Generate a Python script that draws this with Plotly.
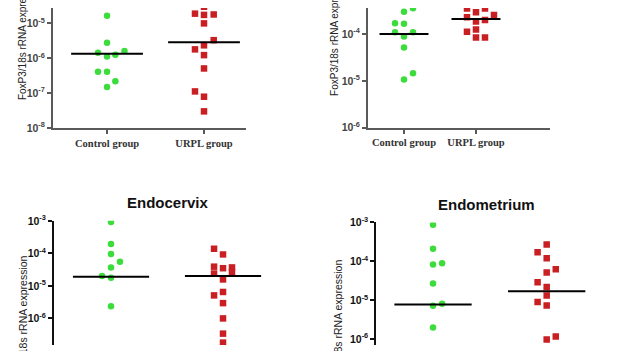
import plotly.graph_objects as go

# ---------------- data ----------------
categories = ["Control group", "URPL group"]

# Panel A (top-left)
a_ctrl = [1.66e-5, 2.8e-6, 1.45e-6, 1.12e-6, 1.26e-6, 1.62e-6, 4.1e-7, 4.1e-7, 2.2e-7, 1.5e-7]
a_ctrl_jit = [0, 0, -0.093, 0, 0.086, 0.18, -0.093, 0, 0.086, 0]
a_urpl = [3.0e-5, 1.9e-5, 1.75e-5, 1.8e-5, 1.0e-5, 3.3e-6, 2.35e-6, 1.8e-6, 1.23e-6, 5.1e-7, 1.12e-7, 7.9e-8, 3.0e-8]
a_urpl_jit = [0, -0.093, 0, 0.1, 0, 0.1, 0, -0.093, 0, 0, -0.093, 0, 0]
a_median = [1.35e-6, 2.9e-6]

# Panel B (top-right)
b_ctrl = [3.0e-4, 3.6e-4, 1.7e-4, 1.66e-4, 1.1e-4, 1.1e-4, 8.9e-5, 5.2e-5, 1.45e-5, 1.07e-5]
b_ctrl_jit = [0, 0.125, -0.125, 0, -0.125, 0.125, 0, 0, 0.125, 0]
b_urpl = [3.55e-4, 3.55e-4, 2.95e-4, 2.57e-4, 2.3e-4, 1.86e-4, 2.0e-4, 1.12e-4, 1.26e-4, 8.5e-5, 8.5e-5]
b_urpl_jit = [-0.125, 0.125, 0, 0.25, -0.125, 0, 0.125, -0.125, 0, 0, 0.125]
b_median = [1.0e-4, 2.1e-4]

# Panel C (bottom-left, Endocervix)
c_ctrl = [9.3e-4, 1.95e-4, 9.5e-5, 5.5e-5, 3.7e-5, 2.0e-5, 1.78e-5, 2.35e-6]
c_ctrl_jit = [0, 0, 0, 0.08, 0, -0.08, 0, 0]
c_urpl = [1.38e-4, 9.3e-5, 3.9e-5, 3.5e-5, 3.7e-5, 2.7e-5, 2.4e-5, 1.58e-5, 5.1e-6, 6.5e-6, 2.95e-6, 1.0e-6, 3.4e-7, 1.8e-7]
c_urpl_jit = [-0.08, 0, -0.08, 0, 0.08, 0.08, -0.08, 0, -0.08, 0, 0, 0, 0, 0]
c_median = [1.9e-5, 2.0e-5]

# Panel D (bottom-right, Endometrium)
d_ctrl = [8.7e-4, 2.1e-4, 8.3e-5, 8.9e-5, 2.7e-5, 8.1e-6, 7.2e-6, 2.0e-6]
d_ctrl_jit = [0, 0, 0, 0.08, 0, 0.08, 0, 0]
d_urpl = [2.7e-4, 1.7e-4, 1.2e-4, 6.3e-5, 5.2e-5, 2.9e-5, 2.2e-5, 1.32e-5, 9.1e-6, 7.4e-6, 1.17e-6, 9.8e-7]
d_urpl_jit = [0, -0.08, 0, 0.08, 0, -0.08, 0, 0, -0.08, 0, 0.08, 0]
d_median = [7.8e-6, 1.7e-5]

titles = ["", "", "Endocervix", "Endometrium"]
ytitle = "FoxP3/18s rRNA expression"

# ---------------- styling ----------------
GREEN = "#3ddc3d"
RED = "#c91e22"
W, H = 624, 351

panels = [
    dict(ctrl=a_ctrl, cj=a_ctrl_jit, urpl=a_urpl, uj=a_urpl_jit, med=a_median,
         xd=[53, 246], yd=[0, 125], xr=[-0.557, 1.433], yr=[-8, -4.559],
         ticks=[-8, -7, -6, -5], axcol="#5a5a5a", showx=True, hw=0.37),
    dict(ctrl=b_ctrl, cj=b_ctrl_jit, urpl=b_urpl, uj=b_urpl_jit, med=b_median,
         xd=[368, 550], yd=[0, 124.5], xr=[-0.5, 2.028], yr=[-6, -3.441],
         ticks=[-6, -5, -4], axcol="#5a5a5a", showx=True, hw=0.34),
    dict(ctrl=c_ctrl, cj=c_ctrl_jit, urpl=c_urpl, uj=c_urpl_jit, med=c_median,
         xd=[54, 290], yd=[221.7, 351], xr=[-0.509, 1.598], yr=[-6.818, -3],
         ticks=[-6, -5, -4, -3], axcol="#111111", showx=False, hw=0.34),
    dict(ctrl=d_ctrl, cj=d_ctrl_jit, urpl=d_urpl, uj=d_urpl_jit, med=d_median,
         xd=[376.3, 610], yd=[223.3, 351], xr=[-0.499, 1.557], yr=[-6.148, -3],
         ticks=[-6, -5, -4, -3], axcol="#111111", showx=False, hw=0.34),
]

fig = go.Figure()
layout = dict(
    width=W, height=H, margin=dict(l=0, r=0, t=0, b=0),
    paper_bgcolor="white", plot_bgcolor="white", showlegend=False,
    annotations=[],
)

for i, p in enumerate(panels):
    n = "" if i == 0 else str(i + 1)
    xa, ya = "x" + n, "y" + n
    # points
    fig.add_trace(go.Scatter(
        x=[0 + j for j in p["cj"]], y=p["ctrl"], mode="markers",
        marker=dict(symbol="circle", size=6.5, color=GREEN, line=dict(width=0)),
        xaxis=xa, yaxis=ya))
    fig.add_trace(go.Scatter(
        x=[1 + j for j in p["uj"]], y=p["urpl"], mode="markers",
        marker=dict(symbol="square", size=6.5, color=RED, line=dict(width=0)),
        xaxis=xa, yaxis=ya))
    # median lines
    for k, m in enumerate(p["med"]):
        fig.add_trace(go.Scatter(
            x=[k - p["hw"], k + p["hw"]], y=[m, m], mode="lines",
            line=dict(color="black", width=2), xaxis=xa, yaxis=ya))

    xdom = [p["xd"][0] / W, p["xd"][1] / W]
    ydom = [1 - p["yd"][1] / H, 1 - p["yd"][0] / H]
    fontcol = "#444444" if p["showx"] else "#111111"
    layout["xaxis" + n] = dict(
        domain=xdom, range=p["xr"], anchor=ya,
        showgrid=False, zeroline=False,
        showline=p["showx"], linecolor=p["axcol"], linewidth=2,
        ticks="outside" if p["showx"] else "", ticklen=4, tickwidth=1.5, tickcolor=p["axcol"],
        tickvals=[0, 1] if p["showx"] else [],
        ticktext=["<b>%s</b>" % c for c in categories],
        tickfont=dict(family="Liberation Serif", size=10.5, color="#333333"),
        showticklabels=p["showx"], fixedrange=True,
    )
    layout["yaxis" + n] = dict(
        domain=ydom, type="log", range=p["yr"], anchor=xa,
        showgrid=False, zeroline=False,
        showline=True, linecolor=p["axcol"], linewidth=2,
        ticks="outside", ticklen=4, tickwidth=1.5, tickcolor=p["axcol"],
        tickvals=[10 ** t for t in p["ticks"]],
        ticktext=["<b>10<sup>%d</sup></b>" % t for t in p["ticks"]],
        tickfont=dict(family="Liberation Sans", size=10.5, color=fontcol),
        fixedrange=True,
    )

# y axis titles (rotated annotations)
ytitle_pos = [(22, 98, "bottom", 10), (334.7, 94, "bottom", 10),
              (22.7, 256, "top", 10.5), (338, 260, "top", 10.5)]
for (px, py, anc, fs) in ytitle_pos:
    layout["annotations"].append(dict(
        text=ytitle, x=px / W, y=1 - py / H, xref="paper", yref="paper",
        xanchor="center", yanchor=anc, textangle=-90, showarrow=False,
        font=dict(family="Liberation Sans", size=fs, color="#222222")))

# panel titles
title_pos = [None, None, (168, 203), (486, 205)]
for t, pos in zip(titles, title_pos):
    if pos is None:
        continue
    layout["annotations"].append(dict(
        text="<b>%s</b>" % t, x=pos[0] / W, y=1 - pos[1] / H, xref="paper", yref="paper",
        xanchor="center", yanchor="middle", showarrow=False,
        font=dict(family="Liberation Sans", size=15, color="#111111")))

fig.update_layout(**layout)
fig.write_html("out.html")
